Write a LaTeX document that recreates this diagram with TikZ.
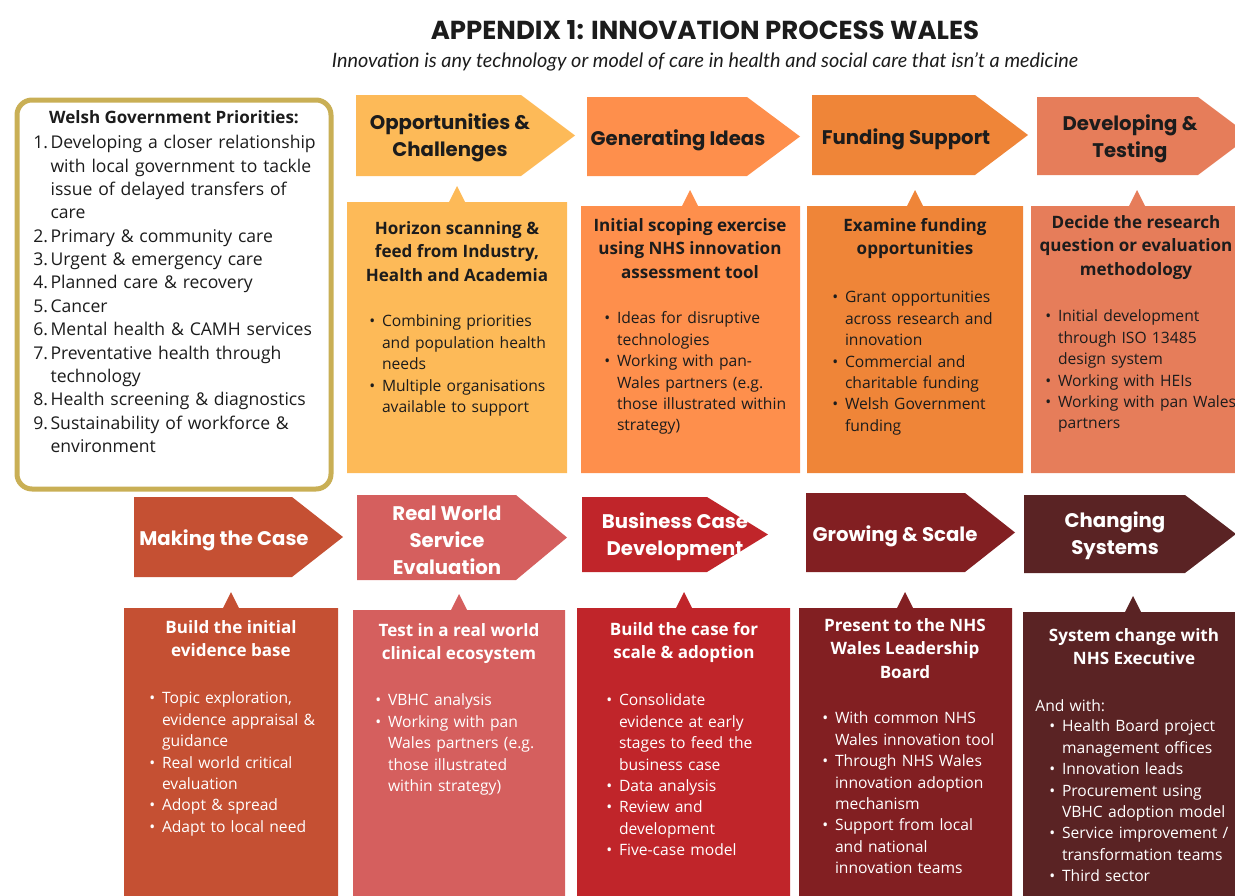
\documentclass[tikz,border=0pt]{standalone}
\usepackage{fontspec}
\setmainfont{Open Sans}
\newfontfamily\headfont{Poppins}
\newfontfamily\subfont{Lato}

\definecolor{inktext}{HTML}{1C1C1C}
\definecolor{wgold}{HTML}{C9AF55}
\definecolor{oppcol}{HTML}{FDBA58}
\definecolor{gencol}{HTML}{FE8F4C}
\definecolor{fundcol}{HTML}{EF8538}
\definecolor{devcol}{HTML}{E67D5A}
\definecolor{makecol}{HTML}{C55033}
\definecolor{rwscol}{HTML}{D55F5E}
\definecolor{bcdcol}{HTML}{C0252A}
\definecolor{growcol}{HTML}{821F22}
\definecolor{chgcol}{HTML}{5A2324}

% arrow banner: left, top, shaft end, tip, bottom, colour
\newcommand{\stagearrow}[6]{%
  \fill[#6] (#1,#2) -- (#3,#2) -- (#4,{(#2+#5)/2}) -- (#3,#5) -- (#1,#5) -- cycle;}
% card with a small peak: left, top, right, bottom, peak x, colour
\newcommand{\stagecard}[6]{%
  \fill[#6] (#1,#2) -- ({#5-8},#2) -- (#5,{#2-16}) -- ({#5+8},#2) -- (#3,#2) -- (#3,#4) -- (#1,#4) -- cycle;}
% list entries (\newline keeps the hanging indent, lists end with \par)
\newcommand{\itm}{\par\hangindent=7.2pt\hangafter=1\noindent\makebox[7.2pt][l]{\textbullet}}
\newcommand{\nitm}[1]{\par\hangindent=9.8pt\hangafter=1\noindent\makebox[9.8pt][l]{#1.}}

\tikzset{
  headtxt/.style={font=\headfont\bfseries\fontsize{11.2}{15.3}\selectfont, align=center, inner sep=0pt, text=inktext},
  cardtitle/.style={font=\bfseries\fontsize{9.7}{13.3}\selectfont, align=center, inner sep=0pt, anchor=north, text=inktext},
  cardlist/.style={font=\fontsize{8.9}{12.2}\selectfont, text width=40mm, align=left, inner sep=0pt, anchor=north west, text=inktext},
}

\begin{document}
\begin{tikzpicture}[x=0.2mm, y=-0.2mm]
  \useasboundingbox (0,0) rectangle (1235,896);
  \clip (0,0) rectangle (1235,896);

  % heading
  \node[font=\headfont\bfseries\fontsize{14.8}{17}\selectfont, text=inktext] (title) at (705,30) {APPENDIX 1: INNOVATION PROCESS WALES};
  \node[font=\subfont\itshape\fontsize{11.3}{13}\selectfont, text=inktext] (subtitle) at (705,62) {Innovation is any technology or model of care in health and social care that isn’t a medicine};

  % priorities box
  \draw[wgold, line width=1mm, fill=white, rounded corners=3mm] (17,100) rectangle (331,489);
  \node[font=\bfseries\fontsize{9.7}{12}\selectfont, text=inktext] (prio) at (174,117) {Welsh Government Priorities:};
  \node[font=\fontsize{10}{13.3}\selectfont, text width=59mm, align=left, inner sep=0pt, anchor=north west, text=inktext] (priolist) at (33,125) {%
    \nitm{1}Developing a closer relationship\newline with local government to tackle\newline issue of delayed transfers of\newline care
    \nitm{2}Primary \& community care
    \nitm{3}Urgent \& emergency care
    \nitm{4}Planned care \& recovery
    \nitm{5}Cancer
    \nitm{6}Mental health \& CAMH services
    \nitm{7}Preventative health through\newline technology
    \nitm{8}Health screening \& diagnostics
    \nitm{9}Sustainability of workforce \&\newline environment\par};

  % top row
  \stagearrow{356}{95}{521}{575}{176}{oppcol}
  \stagearrow{587}{97}{747}{800}{176}{gencol}
  \stagearrow{812}{95}{975}{1028}{175}{fundcol}
  \stagearrow{1037}{97}{1198}{1250}{175}{devcol}
  \stagecard{347}{202}{567}{473}{457}{oppcol}
  \stagecard{581}{206}{800}{473}{690}{gencol}
  \stagecard{807}{206}{1023}{473}{915}{fundcol}
  \stagecard{1031}{206}{1240}{473}{1137}{devcol}

  \node[headtxt] (opp) at (450,138) {Opportunities \&\\Challenges};
  \node[headtxt] (gen) at (678,140) {Generating Ideas};
  \node[headtxt] (fund) at (906,139) {Funding Support};
  \node[headtxt] (dev) at (1130,139) {Developing \&\\Testing};

  \node[cardtitle] (opptitle) at (457,221) {Horizon scanning \&\\feed from Industry,\\Health and Academia};
  \node[cardlist] (opplist) at (369,305) {%
    \itm Combining priorities\newline and population health\newline needs
    \itm Multiple organisations\newline available to support\par};

  \node[cardtitle] (gentitle) at (690,218) {Initial scoping exercise\\using NHS innovation\\assessment tool};
  \node[cardlist] (genlist) at (604,302) {%
    \itm Ideas for disruptive\newline technologies
    \itm Working with pan-\newline Wales partners (e.g.\newline those illustrated within\newline strategy)\par};

  \node[cardtitle] (fundtitle) at (915,218) {Examine funding\\opportunities};
  \node[cardlist] (fundlist) at (832,281) {%
    \itm Grant opportunities\newline across research and\newline innovation
    \itm Commercial and\newline charitable funding
    \itm Welsh Government\newline funding\par};

  \node[cardtitle] (devtitle) at (1136,215) {Decide the research\\question or evaluation\\methodology};
  \node[cardlist] (devlist) at (1045,300) {%
    \itm Initial development\newline through ISO 13485\newline design system
    \itm Working with HEIs
    \itm Working with pan Wales\newline partners\par};

  % bottom row
  \stagearrow{134}{497}{292}{343}{577}{makecol}
  \stagearrow{357}{495}{516}{567}{580}{rwscol}
  \stagearrow{582}{497}{707}{768}{572}{bcdcol}
  \stagearrow{806}{493}{965}{1015}{572}{growcol}
  \stagearrow{1024}{495}{1185}{1236}{573}{chgcol}
  \stagecard{124}{608}{338}{900}{231}{makecol}
  \stagecard{353}{610}{565}{900}{459}{rwscol}
  \stagecard{577}{608}{790}{900}{684}{bcdcol}
  \stagecard{799}{608}{1012}{900}{905}{growcol}
  \stagecard{1023}{612}{1240}{900}{1133}{chgcol}

  \node[headtxt, text=white] (make) at (224,540) {Making the Case};
  \node[headtxt, text=white] (rws) at (447,540) {Real World\\Service\\Evaluation};
  \node[headtxt, text=white] (bcd) at (675,537) {Business Case\\Development};
  \node[headtxt, text=white] (grow) at (895,536) {Growing \& Scale};
  \node[headtxt, text=white] (chg) at (1115,536) {Changing\\Systems};

  \node[cardtitle, text=white] (maketitle) at (231,620) {Build the initial\\evidence base};
  \node[cardlist, text=white] (makelist) at (149,682) {%
    \itm Topic exploration,\newline evidence appraisal \&\newline guidance
    \itm Real world critical\newline evaluation
    \itm Adopt \& spread
    \itm Adapt to local need\par};

  \node[cardtitle, text=white] (rwstitle) at (459,623) {Test in a real world\\clinical ecosystem};
  \node[cardlist, text=white] (rwslist) at (375,684) {%
    \itm VBHC analysis
    \itm Working with pan\newline Wales partners (e.g.\newline those illustrated\newline within strategy)\par};

  \node[cardtitle, text=white] (bcdtitle) at (684,622) {Build the case for\\scale \& adoption};
  \node[cardlist, text=white] (bcdlist) at (606,684) {%
    \itm Consolidate\newline evidence at early\newline stages to feed the\newline business case
    \itm Data analysis
    \itm Review and\newline development
    \itm Five-case model\par};

  \node[cardtitle, text=white] (growtitle) at (905,618) {Present to the NHS\\Wales Leadership\\Board};
  \node[cardlist, text=white] (growlist) at (822,702) {%
    \itm With common NHS\newline Wales innovation tool
    \itm Through NHS Wales\newline innovation adoption\newline mechanism
    \itm Support from local\newline and national\newline innovation teams\par};

  \node[cardtitle, text=white] (chgtitle) at (1134,628) {System change with\\NHS Executive};
  \node[cardlist, text=white] (andwith) at (1035,699) {And with:};
  \node[cardlist, text=white] (chglist) at (1049,710) {%
    \itm Health Board project\newline management offices
    \itm Innovation leads
    \itm Procurement using\newline VBHC adoption model
    \itm Service improvement /\newline transformation teams
    \itm Third sector\par};
\end{tikzpicture}
\end{document}
